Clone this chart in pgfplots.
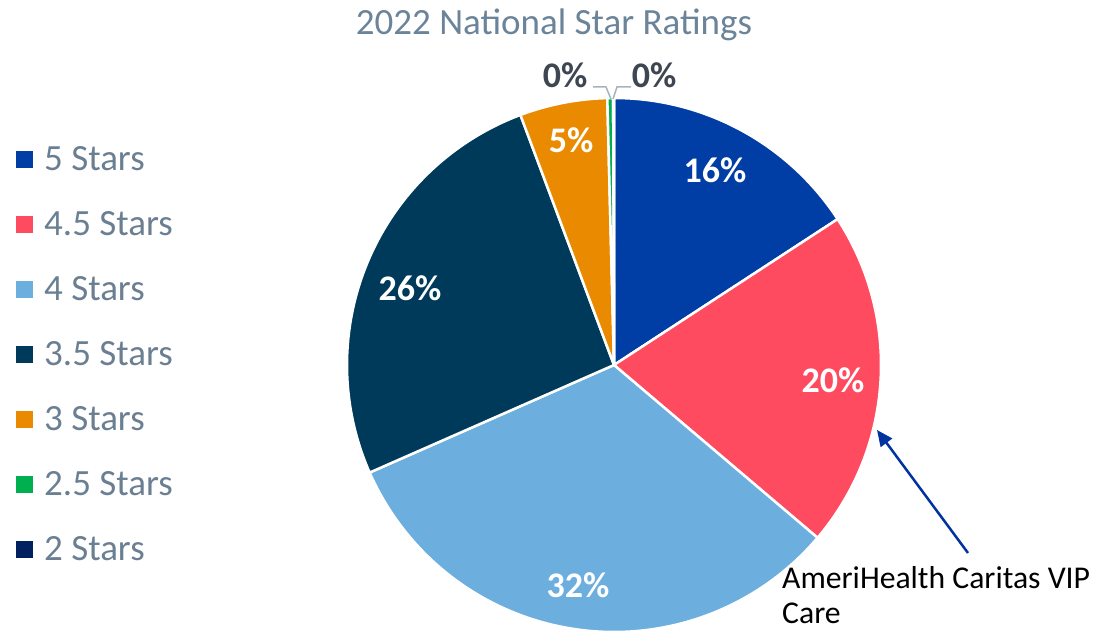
\documentclass[border=0pt]{standalone}
\usepackage{pgfplots}
\pgfplotsset{compat=1.18}
\usepackage{fontspec}
\setmainfont{Carlito}
\usetikzlibrary{arrows.meta}
\definecolor{cfive}{HTML}{003DA5}
\definecolor{cfourhalf}{HTML}{FF4B5F}
\definecolor{cfour}{HTML}{6CAEDE}
\definecolor{cthreehalf}{HTML}{003A5A}
\definecolor{cthree}{HTML}{EA8A00}
\definecolor{ctwohalf}{HTML}{00B050}
\definecolor{ctwo}{HTML}{002060}
\definecolor{titlecol}{HTML}{6B8499}
\definecolor{legcol}{HTML}{6B7F93}
\definecolor{zerocol}{HTML}{3D4651}
\definecolor{leadcol}{HTML}{A5B3BF}
\definecolor{arrowcol}{HTML}{0033A0}
% slice: #1 = cumulative share before (%), #2 = share (%), #3 = colour
\newcommand{\slice}[3]{%
  \addplot[fill=#3, draw=white, line width=2.5pt, line join=round,
    domain={90-3.6*(#1+#2)}:{90-3.6*#1}, samples=120, variable=\t]
    ({614+267*cos(\t)},{265+267*sin(\t)}) -- (axis cs:614,265) -- cycle;}
\newcommand{\legitem}[3]{%
  \addplot[only marks, mark=square*, mark size=8pt, color=#2, mark options={draw=#2,fill=#2}] coordinates {(24,#1)};
  \node[anchor=west, inner sep=0pt, text=legcol, font=\fontsize{37}{44}\selectfont] at (axis cs:44,#1) {#3};}
\begin{document}
\begin{tikzpicture}
\begin{axis}[name=ax, scale only axis, width=1095pt, height=630pt,
  xmin=0, xmax=1095, ymin=0, ymax=630, hide axis, clip=false]
% shares in percent: 5, 4.5, 4, 3.5, 3, 2.5, 2 stars
\slice{0}{15.8}{cfive}
\slice{15.8}{20.4}{cfourhalf}
\slice{36.2}{32.2}{cfour}
\slice{68.4}{25.9}{cthreehalf}
\slice{94.3}{5.3}{cthree}
\slice{99.6}{0.35}{ctwohalf}
\slice{99.95}{0.05}{ctwo}
% labels
\node[text=white, font=\bfseries\fontsize{36}{42}\selectfont] at (axis cs:715,460) {16\%};
\node[text=white, font=\bfseries\fontsize{36}{42}\selectfont] at (axis cs:833,250) {20\%};
\node[text=white, font=\bfseries\fontsize{36}{42}\selectfont] at (axis cs:578,45) {32\%};
\node[text=white, font=\bfseries\fontsize{36}{42}\selectfont] at (axis cs:410,342) {26\%};
\node[text=white, font=\bfseries\fontsize{36}{42}\selectfont] at (axis cs:571,490) {5\%};
\node[text=zerocol, font=\bfseries\fontsize{36}{42}\selectfont] at (axis cs:565,555) {0\%};
\node[text=zerocol, font=\bfseries\fontsize{36}{42}\selectfont] at (axis cs:654,555) {0\%};
\addplot[leadcol, line width=1.5pt, mark=none] coordinates {(593,543) (606,543) (611,531)};
\addplot[leadcol, line width=1.5pt, mark=none] coordinates {(631,543) (617,543) (613,531)};
% title
\node[anchor=base, text=titlecol, font=\fontsize{37}{44}\selectfont] at (axis cs:554,595) {2022 National Star Ratings};
% legend
\legitem{471}{cfive}{5 Stars}
\legitem{406}{cfourhalf}{4.5 Stars}
\legitem{341}{cfour}{4 Stars}
\legitem{276}{cthreehalf}{3.5 Stars}
\legitem{211}{cthree}{3 Stars}
\legitem{146}{ctwohalf}{2.5 Stars}
\legitem{81}{ctwo}{2 Stars}
% annotation
\addplot[arrowcol, line width=2.5pt, mark=none, -{Triangle[length=16pt,width=14pt]}] coordinates {(968,77) (877,200)};
\node[anchor=base west, inner sep=0pt, font=\fontsize{31.7}{35}\selectfont] at (axis cs:782,42) {AmeriHealth Caritas VIP};
\node[anchor=base west, inner sep=0pt, font=\fontsize{31.7}{35}\selectfont] at (axis cs:782,7) {Care};
\end{axis}
\pgfresetboundingbox
\path (ax.south west) rectangle (ax.north east);
\end{tikzpicture}
\end{document}
